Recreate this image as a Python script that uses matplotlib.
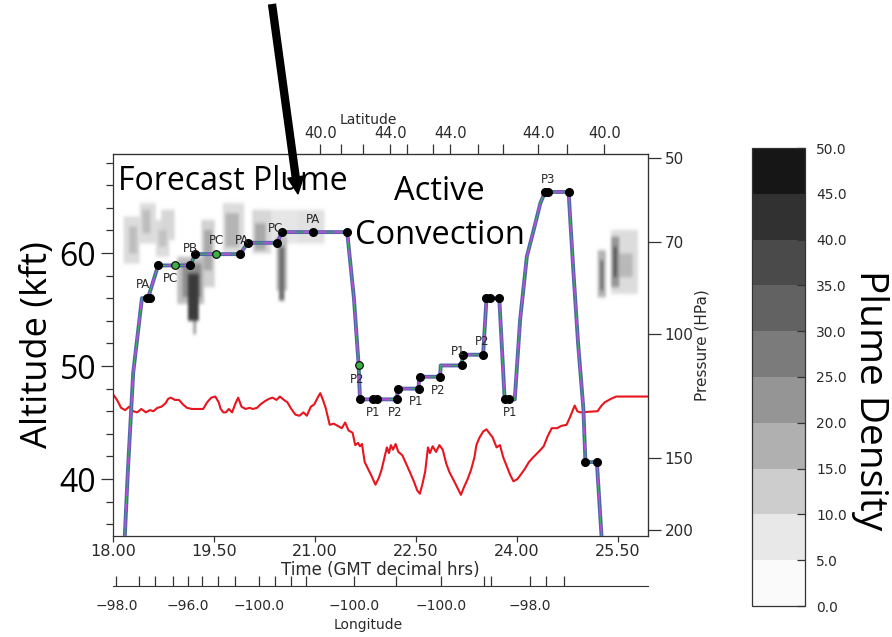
import numpy as np
import matplotlib
matplotlib.use("Agg")
import matplotlib.pyplot as plt
from matplotlib.colors import ListedColormap, BoundaryNorm, LinearSegmentedColormap, Normalize
from matplotlib.cm import ScalarMappable
from matplotlib.ticker import NullLocator, MultipleLocator
from matplotlib.lines import Line2D
from matplotlib.patches import Polygon

W, H = 892, 637
BIG = "Open Sans"
SMALL = "DejaVu Sans"
INK = "#2a2a2a"

# ---- axis ticks ----
time_ticks = [18.0, 19.5, 21.0, 22.5, 24.0, 25.5]
alt_ticks = [40, 50, 60]
pres_ticks = [50, 70, 100, 150, 200]

# pressure levels and the altitude (kft) they sit at on the left scale
pres_ref = [30, 50, 70, 100, 150, 200, 300]
pres_ref_alt = [79.6, 68.4, 61.0, 52.8, 41.9, 35.5, 26.5]

lat_tick_t = [21.08, 21.39, 21.72, 22.12, 22.37, 22.76, 23.01, 23.42, 23.80, 24.32, 24.75, 25.30]
lat_tick_lab = ["40.0", "", "", "44.0", "", "", "44.0", "", "", "44.0", "", "40.0"]

lon_tick_t = [18.05, 18.39, 18.62, 18.89, 19.11, 19.32, 19.56, 19.81, 20.17, 20.41,
              20.65, 20.87, 21.58, 22.21, 22.87, 23.51, 23.62, 24.20, 24.43, 24.70]
lon_tick_lab = ["\u221298.0", "", "", "", "\u221296.0", "", "", "", "\u2212100.0", "",
                "", "", "\u2212100.0", "", "\u2212100.0", "", "", "\u221298.0", "", ""]

# ---- flight track ----
track_t = [18.16, 18.22, 18.30, 18.43, 18.52, 18.67, 18.92, 19.15, 19.22, 19.53,
           19.89, 20.00, 20.44, 20.51, 20.97, 21.48, 21.58, 21.65, 21.67, 21.87,
           21.93, 22.22, 22.23, 22.54, 22.55, 22.86, 22.87, 23.18, 23.20, 23.50,
           23.55, 23.74, 23.82, 23.97, 24.05, 24.15, 24.25, 24.35, 24.42, 24.77,
           24.84, 24.91, 24.99, 25.02, 25.19, 25.28]
track_alt = [33.0, 40.6, 49.4, 56.0, 56.0, 58.9, 58.9, 58.9, 59.9, 59.9,
             59.9, 60.9, 60.9, 61.85, 61.85, 61.85, 56.0, 50.1, 47.05, 47.05,
             47.05, 47.05, 48.0, 48.0, 49.05, 49.05, 50.05, 50.05, 51.0, 51.0,
             56.0, 56.0, 47.05, 47.05, 54.1, 59.7, 62.0, 64.4, 65.4, 65.4,
             58.5, 52.1, 46.2, 41.5, 41.5, 33.0]

dot_t = [18.50, 18.55, 18.67, 19.15, 19.22, 19.89, 20.00, 20.44, 20.51, 20.97, 21.48,
         21.67, 21.87, 21.93, 22.22, 22.24, 22.54, 22.56, 22.86, 23.18, 23.20, 23.50,
         23.55, 23.60, 23.74, 23.82, 23.88, 24.42, 24.46, 24.77, 25.02, 25.19]
dot_alt = [56.0, 56.0, 58.9, 58.9, 59.9, 59.9, 60.9, 60.9, 61.85, 61.85, 61.85,
           47.05, 47.05, 47.05, 47.05, 48.0, 48.0, 49.05, 49.05, 50.05, 51.0, 51.0,
           56.0, 56.0, 56.0, 47.05, 47.05, 65.4, 65.4, 65.4, 41.5, 41.5]
green_t = [18.92, 19.53, 21.65]
green_alt = [58.9, 59.9, 50.1]

lab_text = ["PA", "PC", "PB", "PC", "PA", "PC", "PA", "P2", "P1", "P2",
            "P1", "P2", "P1", "P2", "P1", "P3"]
lab_t = [18.45, 18.86, 19.15, 19.54, 19.91, 20.41, 20.97, 21.63, 21.87, 22.19,
         22.51, 22.83, 23.13, 23.48, 23.90, 24.47]
lab_alt = [57.2, 57.7, 60.4, 61.1, 61.1, 62.2, 63.0, 48.8, 45.9, 45.9,
           46.9, 47.8, 51.3, 52.2, 45.9, 66.5]

# ---- red line ----
red_t = [18.00, 18.06, 18.12, 18.18, 18.24, 18.30, 18.36, 18.42, 18.49, 18.55,
         18.60, 18.66, 18.72, 18.78, 18.82, 18.86, 18.92, 18.98, 19.04, 19.10,
         19.17, 19.25, 19.34, 19.40, 19.46, 19.52, 19.57, 19.60, 19.64, 19.68,
         19.72, 19.77, 19.82, 19.86, 19.91, 19.97, 20.03, 20.08, 20.14, 20.19,
         20.26, 20.32, 20.37, 20.43, 20.48, 20.54, 20.59, 20.65, 20.71, 20.77,
         20.83, 20.88, 20.94, 20.99, 21.05, 21.08, 21.12, 21.16, 21.22, 21.28,
         21.34, 21.40, 21.45, 21.50, 21.56, 21.60, 21.64, 21.67, 21.70, 21.74,
         21.79, 21.84, 21.90, 21.95, 21.99, 22.03, 22.07, 22.10, 22.13, 22.16,
         22.20, 22.24, 22.30, 22.36, 22.42, 22.47, 22.52, 22.56, 22.60, 22.64,
         22.68, 22.71, 22.75, 22.80, 22.85, 22.90, 22.95, 23.00, 23.07, 23.12,
         23.17, 23.21, 23.27, 23.32, 23.37, 23.40, 23.44, 23.50, 23.55, 23.60,
         23.64, 23.70, 23.75, 23.80, 23.84, 23.90, 23.95, 24.01, 24.06, 24.12,
         24.18, 24.24, 24.29, 24.34, 24.40, 24.46, 24.52, 24.60, 24.66, 24.74,
         24.80, 24.86, 24.90, 24.94, 25.20, 25.26, 25.31, 25.40, 25.48, 25.95]
red_alt = [47.5, 47.0, 46.3, 46.1, 46.4, 46.0, 45.9, 46.2, 45.9, 46.1,
           46.0, 46.3, 46.4, 46.7, 47.1, 47.2, 47.0, 47.0, 46.6, 46.3,
           46.2, 46.2, 46.2, 46.8, 47.2, 47.3, 46.8, 46.2, 45.9, 45.9,
           46.2, 45.9, 46.7, 47.2, 46.4, 46.2, 46.3, 46.2, 46.3, 46.6,
           46.9, 47.1, 47.2, 47.0, 47.3, 47.0, 46.8, 46.2, 45.7, 45.6,
           45.9, 45.6, 46.4, 46.6, 47.3, 47.6, 47.0, 46.3, 44.8, 44.9,
           44.7, 44.5, 45.0, 44.3, 44.1, 43.0, 43.2, 42.9, 43.1, 41.5,
           40.9, 40.3, 39.5, 40.1, 40.8, 41.8, 42.8, 42.3, 43.0, 42.6,
           43.1, 42.4, 42.1, 41.3, 40.5, 39.8, 39.0, 38.7, 39.6, 40.7,
           42.8, 42.3, 42.9, 42.4, 43.0, 42.6, 41.4, 40.6, 39.8, 39.2,
           38.6, 39.2, 40.0, 40.8, 41.9, 43.0, 43.6, 44.2, 44.4, 44.0,
           43.7, 42.8, 43.0, 41.9, 41.3, 40.4, 39.8, 40.0, 40.4, 40.9,
           41.5, 41.9, 42.2, 42.5, 42.9, 43.8, 44.5, 44.5, 44.7, 44.8,
           45.6, 46.5, 46.0, 45.9, 46.0, 46.5, 46.8, 47.1, 47.3, 47.3]

# ---- plume density patches (t0, t1, alt0, alt1, density) ----
cell_t0 = [18.15, 18.20, 18.36, 18.42, 18.62, 18.66, 18.68, 18.95, 19.00, 19.10,
           19.16, 19.30, 19.34, 19.60, 19.66, 20.05, 20.10, 20.30, 20.42, 20.46,
           20.75, 25.22, 25.25, 25.40, 25.43, 25.45, 25.52]
cell_t1 = [18.38, 18.33, 18.62, 18.55, 18.80, 18.76, 18.88, 19.35, 19.28, 19.26,
           19.22, 19.48, 19.44, 19.92, 19.86, 20.32, 20.25, 20.75, 20.56, 20.53,
           21.15, 25.34, 25.31, 25.80, 25.52, 25.50, 25.75]
cell_a0 = [59.0, 60.0, 60.8, 61.8, 59.6, 60.5, 61.2, 55.5, 56.0, 54.0,
           52.8, 57.0, 58.5, 60.0, 60.6, 60.0, 60.4, 60.8, 56.6, 55.8,
           60.8, 56.0, 56.8, 56.5, 57.0, 58.0, 58.0]
cell_a1 = [63.2, 62.3, 64.6, 64.0, 63.0, 62.2, 63.8, 59.8, 59.0, 58.2,
           54.5, 63.0, 62.0, 64.4, 63.5, 63.8, 62.8, 64.0, 61.5, 60.5,
           63.8, 60.4, 59.5, 62.0, 61.4, 60.5, 60.0]
cell_val = [8, 14, 8, 14, 8, 13, 9, 14, 24, 42,
            22, 10, 18, 8, 16, 9, 18, 6, 14, 30,
            7, 16, 32, 8, 22, 38, 15]

levels = [0, 5, 10, 15, 20, 25, 30, 35, 40, 45, 50]
grays = ["#fafafa", "#e8e8e8", "#cdcdcd", "#b0b0b0", "#959595",
         "#7b7b7b", "#626262", "#4a4a4a", "#313131", "#161616"]

lnp_ref = np.log(pres_ref)
alt_ref = np.array(pres_ref_alt)


def p_to_alt(p):
    return np.interp(np.log(np.asarray(p, dtype=float)), lnp_ref, alt_ref)


def alt_to_p(a):
    return np.exp(np.interp(np.asarray(a, dtype=float), alt_ref[::-1], lnp_ref[::-1]))


def fx(x):
    return x / W


def fy(y):
    return 1 - y / H


fig = plt.figure(figsize=(W / 100, H / 100), dpi=100)
ax_l, ax_r, ax_t, ax_b = 113, 648, 154, 536
ax = fig.add_axes([fx(ax_l), fy(ax_b), (ax_r - ax_l) / W, (ax_b - ax_t) / H])
ylim = (34.96, 68.76)
xlim = (18.0, 25.95)

# plume density as a soft image
gt = np.arange(xlim[0], xlim[1], 0.04)
ga = np.arange(ylim[0], ylim[1], 0.3)
dens = np.zeros((len(ga), len(gt)))
for t0, t1, a0, a1, v in zip(cell_t0, cell_t1, cell_a0, cell_a1, cell_val):
    m = ((ga[:, None] >= a0) & (ga[:, None] <= a1)) & ((gt[None, :] >= t0) & (gt[None, :] <= t1))
    dens[m] = np.maximum(dens[m], v)
soft = LinearSegmentedColormap.from_list("plume", ["#ffffff"] + grays[1:])
ax.imshow(dens, extent=(gt[0], gt[-1], ga[0], ga[-1]), origin="lower", aspect="auto",
          cmap=soft, norm=Normalize(0, 50), interpolation="bicubic", zorder=1)

ax.plot(red_t, red_alt, color="#e8141e", lw=1.5, zorder=2)

ax.plot(track_t, track_alt, color="#5265ac", lw=2.8, zorder=3, solid_capstyle="butt")
ax.plot(track_t, track_alt, color="#3fbf4a", lw=0.6, zorder=4)
ax.plot(track_t, track_alt, color="#b24fd6", lw=1.4, dashes=(4, 4), zorder=4)
ax.plot(dot_t, dot_alt, "o", color="black", ms=5.5, zorder=5)
ax.plot(green_t, green_alt, "o", color="#3cb043", mec="black", mew=0.8, ms=5.5, zorder=5)
for s, t, a in zip(lab_text, lab_t, lab_alt):
    ax.text(t, a, s, fontsize=8.5, family=SMALL, color=INK,
            ha="center", va="center", zorder=6)

ax.set_xlim(*xlim)
ax.set_ylim(*ylim)

ax.set_xticks(time_ticks, labels=[f"{t:.2f}" for t in time_ticks])
ax.set_yticks(alt_ticks, labels=[str(a) for a in alt_ticks])
ax.yaxis.set_minor_locator(MultipleLocator(2))
ax.tick_params(axis="x", direction="out", length=4, width=0.9, pad=2,
               labelsize=11.5, labelcolor=INK, color="#333333")
ax.tick_params(axis="y", which="major", direction="out", length=9, width=0.9,
               pad=3, color="#333333")
ax.tick_params(axis="y", which="minor", direction="out", length=5, width=0.9,
               color="#333333")
for lbl in ax.get_yticklabels():
    lbl.set_fontfamily(BIG)
    lbl.set_fontsize(23)
for sp in ax.spines.values():
    sp.set_color("#333333")
    sp.set_linewidth(0.9)

ax.set_xlabel("Time (GMT decimal hrs)", fontsize=12, family=SMALL,
              color=INK, labelpad=1)
ax.set_ylabel("Altitude (kft)", fontsize=26, family=BIG, labelpad=3)

# pressure axis on the right
sec_r = ax.secondary_yaxis("right", functions=(alt_to_p, p_to_alt))
sec_r.set_yticks(pres_ticks, labels=[str(p) for p in pres_ticks])
sec_r.yaxis.set_minor_locator(NullLocator())
sec_r.tick_params(direction="out", length=9, width=0.9, pad=3, labelsize=11,
                  labelcolor=INK, color="#333333")
sec_r.spines["right"].set_color("#333333")
sec_r.set_ylabel("Pressure (HPa)", fontsize=11, family=SMALL, color=INK,
                 labelpad=1)

# latitude axis on top
sec_t = ax.secondary_xaxis("top")
sec_t.set_xticks(lat_tick_t, labels=lat_tick_lab)
sec_t.xaxis.set_minor_locator(NullLocator())
sec_t.tick_params(direction="out", length=7, width=0.9, pad=2, labelsize=10.5,
                  labelcolor=INK, color="#333333")
sec_t.spines["top"].set_color("#333333")
fig.text(fx(368), fy(120), "Latitude", fontsize=10, family=SMALL, color=INK,
         ha="center", va="center")

# longitude axis below
lon_y = 586
ax_lon = fig.add_axes([fx(ax_l), fy(lon_y), (ax_r - ax_l) / W, 0.001])
ax_lon.set_xlim(*xlim)
ax_lon.patch.set_visible(False)
for side in ["top", "left", "right"]:
    ax_lon.spines[side].set_visible(False)
ax_lon.spines["bottom"].set_color("#333333")
ax_lon.set_yticks([])
ax_lon.set_xticks(lon_tick_t, labels=lon_tick_lab)
ax_lon.tick_params(axis="x", direction="in", length=7, width=0.9, pad=9,
                   labelsize=10, labelcolor=INK, color="#333333")
fig.text(fx(368), fy(625), "Longitude", fontsize=10, family=SMALL, color=INK,
         ha="center", va="center")

# colorbar
cmap = ListedColormap(grays)
norm = BoundaryNorm(levels, cmap.N)
cb_l, cb_r, cb_t, cb_b = 752, 805, 148, 606
cax = fig.add_axes([fx(cb_l), fy(cb_b), (cb_r - cb_l) / W, (cb_b - cb_t) / H])
cb = fig.colorbar(ScalarMappable(norm=norm, cmap=cmap), cax=cax, ticks=levels,
                  format="%.1f")
cb.outline.set_edgecolor("#333333")
cb.outline.set_linewidth(0.9)
cax.tick_params(direction="in", length=6, width=0.9, pad=8, labelsize=10,
                labelcolor=INK, color="#333333")
cax.yaxis.set_minor_locator(NullLocator())
fig.text(fx(870), fy(400), "Plume Density", rotation=-90, fontsize=28,
         family=BIG, ha="center", va="center")

# overlay annotations
fig.text(fx(118), fy(181), "Forecast Plume", fontsize=23, family=BIG,
         ha="left", va="center")
fig.text(fx(439), fy(192), "Active", fontsize=23.5, family=BIG,
         ha="center", va="center")
fig.text(fx(440), fy(236), "Convection", fontsize=23.5, family=BIG,
         ha="center", va="center")

tip = np.array([298.0, 194.0])
tail = np.array([272.0, 4.0])
d = (tip - tail) / np.hypot(*(tip - tail))
perp = np.array([d[1], -d[0]])
base = tip - 17 * d
fig.add_artist(Line2D([fx(tail[0]), fx(base[0])], [fy(tail[1]), fy(base[1])],
                      color="black", lw=6, solid_capstyle="butt"))
head = [tip, base + 8 * perp, base - 8 * perp]
fig.add_artist(Polygon([(fx(x), fy(y)) for x, y in head], closed=True,
                       color="black", transform=fig.transFigure))

fig.savefig("out.png", dpi=100)
